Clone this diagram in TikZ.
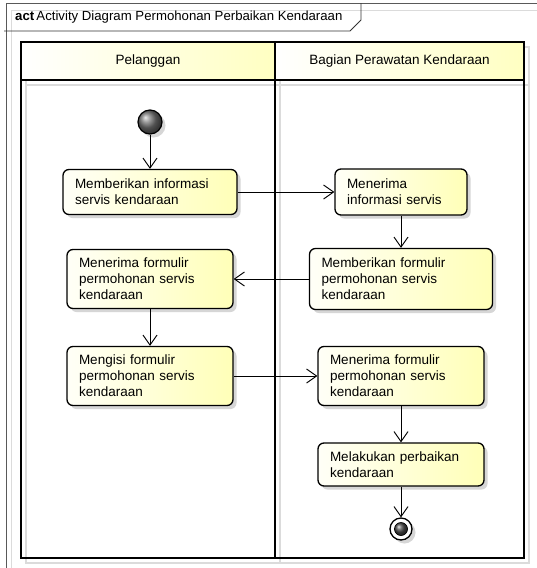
\documentclass[tikz,border=0pt]{standalone}
\usepackage{fontspec}
\setmainfont{Liberation Sans}
\usetikzlibrary{arrows.meta,shadows}
\begin{document}
\begin{tikzpicture}[x=1pt,y=-1pt,
  boxshadow/.style={drop shadow={shadow xshift=3.5pt,shadow yshift=-3.5pt,fill=black!16,opacity=1}},
  action/.style={draw, line width=1.3pt, rounded corners=6pt,
    left color=yellow!3, right color=yellow!28, align=left,
    inner xsep=12pt, inner ysep=0pt, boxshadow,
    font=\fontsize{13.5}{16}\selectfont},
  lanehead/.style={font=\fontsize{13.5}{16}\selectfont},
  flow/.style={-{Straight Barb[length=10pt,width=14pt]}, line width=0.9pt},
  flowshade/.style={flow, draw=black!12, xshift=3pt, yshift=-3pt},
  lanerule/.style={line width=2.2pt},
  laneshade/.style={line width=1.6pt, black!14}]
\useasboundingbox (0,0) rectangle (537,568);
\fill[white] (0,0) rectangle (537,568);
\clip (0,0) rectangle (537,568);

% diagram frame and its title tab
\draw[black!14, line width=1pt] (11,10) rectangle (620,620);
\draw[black!65, line width=1pt] (6,3) rectangle (620,620);
\draw[black!80, line width=0.8pt] (4,31) -- (350,31) -- (361,20) -- (361,3);
\node[anchor=west, inner sep=0pt, font=\fontsize{13.2}{15}\selectfont] (title) at (15,17)
  {\textbf{act}\,Activity Diagram Permohonan Perbaikan Kendaraan};

% swimlanes
\draw[laneshade] (26,47) rectangle (529,563);
\draw[laneshade] (280,47) -- (280,563);
\draw[laneshade] (26,85) -- (529,85);
\fill[left color=white, right color=yellow!24] (21,42) rectangle (275,80);
\fill[left color=white, right color=yellow!24] (275,42) rectangle (524,80);
\draw[lanerule] (21,42) rectangle (524,558);
\draw[lanerule] (275,42) -- (275,558);
\draw[lanerule] (21,80) -- (524,80);
\node[lanehead] (lane1) at (148,61) {Pelanggan};
\node[lanehead] (lane2) at (399.5,61) {Bagian Perawatan Kendaraan};

% initial node
\node[circle, draw, line width=1.2pt, minimum size=24pt, inner sep=0pt,
  shading=ball, ball color=black!55, boxshadow] (start) at (150,122) {};

% actions
\node[action, text width=150pt, minimum height=45pt] (a1) at (150,192)
  {Memberikan informasi\\servis kendaraan};
\node[action, text width=108pt, minimum height=46pt] (a2) at (401,192)
  {Menerima\\informasi servis};
\node[action, text width=159pt, minimum height=61pt] (a3) at (401,279)
  {Memberikan formulir\\permohonan servis\\kendaraan};
\node[action, text width=142pt, minimum height=59pt] (a4) at (150,279)
  {Menerima formulir\\permohonan servis\\kendaraan};
\node[action, text width=142pt, minimum height=59pt] (a5) at (150,376)
  {Mengisi formulir\\permohonan servis\\kendaraan};
\node[action, text width=142pt, minimum height=59pt] (a6) at (401,376)
  {Menerima formulir\\permohonan servis\\kendaraan};
\node[action, text width=142pt, minimum height=43pt] (a7) at (401,464.5)
  {Melakukan perbaikan\\kendaraan};

% final node
\node[circle, draw, line width=1.3pt, fill=white, minimum size=22pt, inner sep=0pt,
  boxshadow] (stop) at (401,529) {};
\fill[ball color=black!70] (stop.center) circle (6.5pt);
\draw[line width=0.6pt] (stop.center) circle (6.5pt);

% control flows
\foreach \u/\v in {start/a1, a1/a2, a2/a3, a3/a4, a4/a5, a5/a6, a6/a7, a7/stop} {
  \draw[flowshade] (\u) -- (\v);
}
\foreach \u/\v in {start/a1, a1/a2, a2/a3, a3/a4, a4/a5, a5/a6, a6/a7, a7/stop} {
  \draw[flow] (\u) -- (\v);
}
\end{tikzpicture}
\end{document}
